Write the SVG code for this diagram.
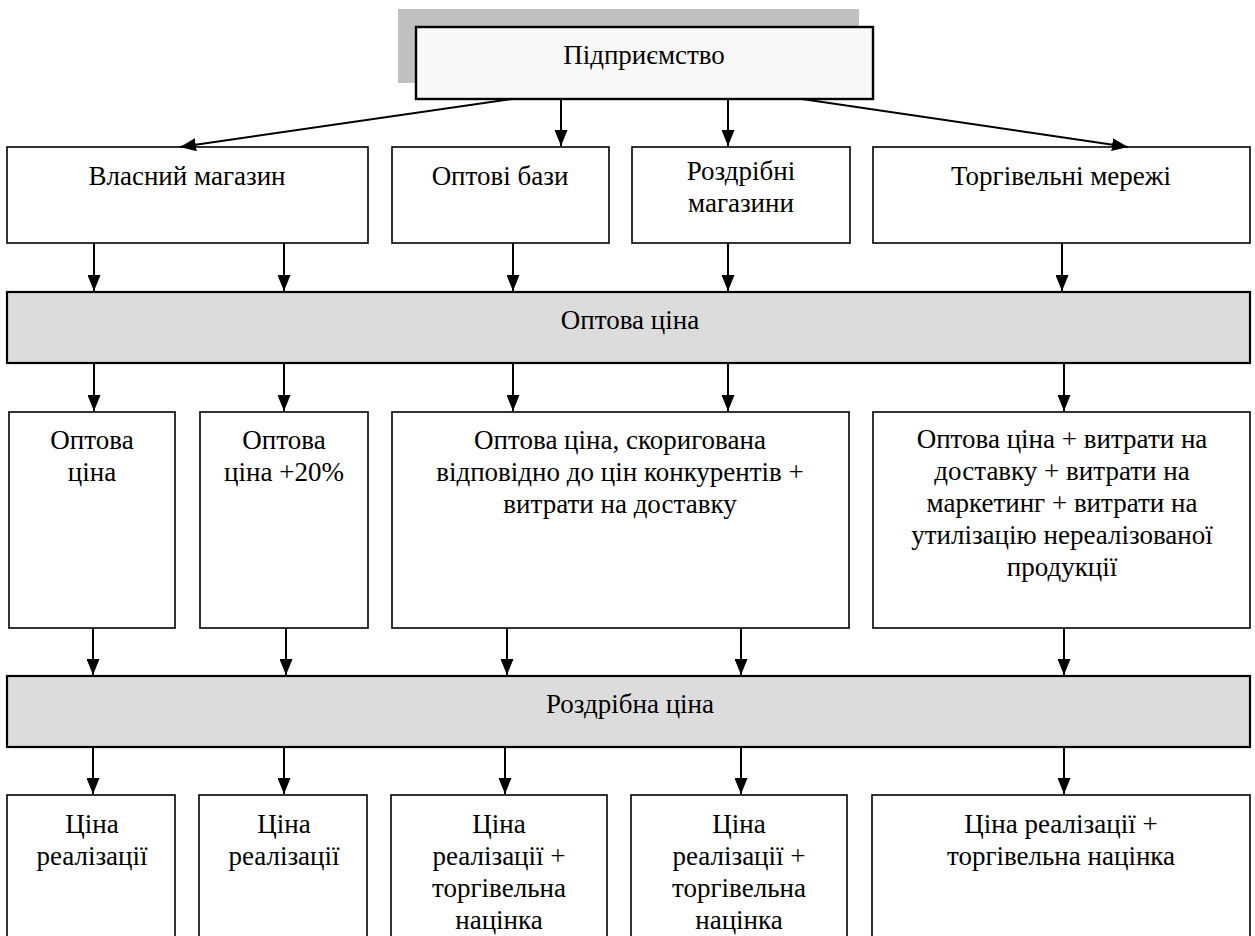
<svg xmlns="http://www.w3.org/2000/svg" width="1255" height="936" viewBox="0 0 1255 936">
<defs>
<style>
text{font-size:27px;fill:#000;text-anchor:middle}
.box{fill:#fff;stroke:#000;stroke-width:1.6}
.band{fill:#dcdcdc;stroke:#000;stroke-width:2.2}
.top{fill:#f8f8f8;stroke:#000;stroke-width:2.4}
.shadow{fill:#c0c0c0}
.con line{stroke:#000;stroke-width:2;marker-end:url(#ah)}
</style>
<marker id="ah" viewBox="0 0 16 13" refX="16" refY="6.5" markerWidth="16" markerHeight="13" markerUnits="userSpaceOnUse" orient="auto">
<path d="M0,0 L16,6.5 L0,13 Z" fill="#000"/>
</marker>
</defs>
<rect width="1255" height="936" fill="#fff"/>
<g font-family="Liberation Serif, Times New Roman, serif">
<g id="n-enterprise">
<rect class="shadow" x="398" y="9" width="461" height="74"/>
<rect class="top" x="416" y="27" width="457" height="72"/>
<text x="644" y="64">Підприємство</text>
</g>

<g id="n-own-shop"><rect class="box" x="7" y="147" width="361" height="96"/><text x="187" y="185">Власний магазин</text></g>
<g id="n-wholesale-bases"><rect class="box" x="392" y="147" width="217" height="96"/><text x="500" y="185">Оптові бази</text></g>
<g id="n-retail-shops"><rect class="box" x="632" y="147" width="218" height="96"/><text x="741" y="180">Роздрібні</text><text x="741" y="212">магазини</text></g>
<g id="n-trade-networks"><rect class="box" x="873" y="147" width="377" height="96"/><text x="1061" y="185">Торгівельні мережі</text></g>

<g id="n-wholesale-price"><rect class="band" x="7" y="292" width="1243" height="71"/><text x="630" y="329">Оптова ціна</text></g>

<g id="n-p1"><rect class="box" x="9" y="412" width="166" height="216"/><text x="92" y="449">Оптова</text><text x="92" y="481">ціна</text></g>
<g id="n-p2"><rect class="box" x="200" y="412" width="168" height="216"/><text x="284" y="449">Оптова</text><text x="284" y="481">ціна +20%</text></g>
<g id="n-p3"><rect class="box" x="392" y="412" width="457" height="216"/><text x="620" y="449">Оптова ціна, скоригована</text><text x="620" y="481">відповідно до цін конкурентів +</text><text x="620" y="513">витрати на доставку</text></g>
<g id="n-p4"><rect class="box" x="873" y="412" width="377" height="216"/><text x="1062" y="448">Оптова ціна + витрати на</text><text x="1062" y="480">доставку + витрати на</text><text x="1062" y="512">маркетинг + витрати на</text><text x="1062" y="544">утилізацію нереалізованої</text><text x="1062" y="576">продукції</text></g>

<g id="n-retail-price"><rect class="band" x="7" y="676" width="1243" height="71"/><text x="630" y="713">Роздрібна ціна</text></g>

<g id="n-r1"><rect class="box" x="7" y="795" width="168" height="150"/><text x="92" y="833">Ціна</text><text x="92" y="865">реалізації</text></g>
<g id="n-r2"><rect class="box" x="199" y="795" width="168" height="150"/><text x="284" y="833">Ціна</text><text x="284" y="865">реалізації</text></g>
<g id="n-r3"><rect class="box" x="391" y="795" width="216" height="150"/><text x="499" y="833">Ціна</text><text x="499" y="865">реалізації +</text><text x="499" y="897">торгівельна</text><text x="499" y="929">націнка</text></g>
<g id="n-r4"><rect class="box" x="631" y="795" width="216" height="150"/><text x="739" y="833">Ціна</text><text x="739" y="865">реалізації +</text><text x="739" y="897">торгівельна</text><text x="739" y="929">націнка</text></g>
<g id="n-r5"><rect class="box" x="872" y="795" width="378" height="150"/><text x="1061" y="833">Ціна реалізації +</text><text x="1061" y="865">торгівельна націнка</text></g>
</g>
<g id="connectors" class="con">
<line x1="512" y1="99" x2="180" y2="147"/>
<line x1="561" y1="99" x2="561" y2="146"/>
<line x1="728" y1="99" x2="728" y2="146"/>
<line x1="802" y1="99" x2="1128" y2="147"/>

<line x1="94" y1="243" x2="94" y2="291"/>
<line x1="284" y1="243" x2="284" y2="291"/>
<line x1="513" y1="243" x2="513" y2="291"/>
<line x1="728" y1="243" x2="728" y2="291"/>
<line x1="1062" y1="243" x2="1062" y2="291"/>

<line x1="94" y1="363" x2="94" y2="411"/>
<line x1="284" y1="363" x2="284" y2="411"/>
<line x1="513" y1="363" x2="513" y2="411"/>
<line x1="728" y1="363" x2="728" y2="411"/>
<line x1="1064" y1="363" x2="1064" y2="411"/>

<line x1="93" y1="628" x2="93" y2="675"/>
<line x1="286" y1="628" x2="286" y2="675"/>
<line x1="507" y1="628" x2="507" y2="675"/>
<line x1="741" y1="628" x2="741" y2="675"/>
<line x1="1064" y1="628" x2="1064" y2="675"/>

<line x1="93" y1="747" x2="93" y2="794"/>
<line x1="284" y1="747" x2="284" y2="794"/>
<line x1="505" y1="747" x2="505" y2="794"/>
<line x1="741" y1="747" x2="741" y2="794"/>
<line x1="1064" y1="747" x2="1064" y2="794"/>
</g>
</svg>
